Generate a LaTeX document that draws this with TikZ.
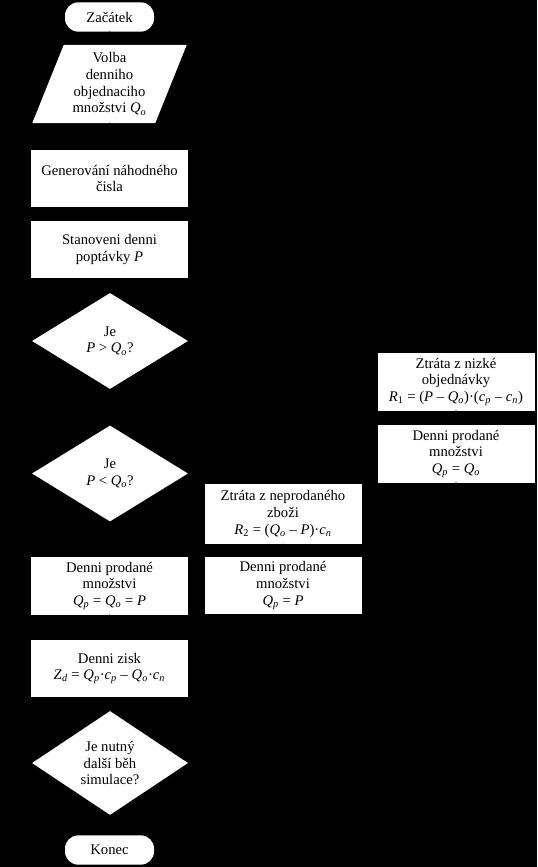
\documentclass[tikz,border=0pt]{standalone}
\usepackage{fontspec}
\setmainfont{Liberation Serif}
\usetikzlibrary{arrows.meta, shapes.geometric}
\newcommand{\vv}[2]{\textit{#1}\textsubscript{\textit{#2}}}
\newcommand{\vn}[2]{\textit{#1}\textsubscript{#2}}

\begin{document}
\begin{tikzpicture}[x=0.75pt, y=-0.75pt, >=Latex, line cap=round, line join=round,
	font=\fontsize{11}{12.5}\selectfont,
	box/.style={rectangle, fill=white, text=black, align=center, inner sep=1pt,
		minimum width=117.75pt, minimum height=43pt},
	term/.style={rectangle, rounded corners=10pt, fill=white, text=black,
		minimum width=66.75pt, minimum height=22pt},
	inbox/.style={trapezium, trapezium left angle=68, trapezium right angle=112,
		trapezium stretches=true, fill=white, text=black, align=center, inner sep=0pt,
		minimum width=116pt, minimum height=58.5pt},
	ask/.style={diamond, aspect=1.6, fill=white, text=black, align=center, inner sep=0pt,
		minimum width=117pt, minimum height=72pt},
	flow/.style={->, black, thick}]
% background
\fill[black] (0,0) rectangle (537,867);
%========================
% Left column
%========================
\node[term] (start) at (109.5,17) {Začátek};
\node[inbox] (volba) at (109.5,84) {Volba\\denniho\\objednaciho\\množstvi \vv{Q}{o}};
\node[box] (gen) at (109.5,178.5) {Generování náhodného\\čisla};
\node[box] (stan) at (109.5,249.5) {Stanoveni denni\\poptávky \textit{P}};
\node[ask] (d1) at (110,341) {Je\\\textit{P} > \vv{Q}{o}?};
\node[ask] (d2) at (110,473.5) {Je\\\textit{P} < \vv{Q}{o}?};
\node[box] (qpall) at (109.5,586) {Denni prodané\\množstvi\\\vv{Q}{p} = \vv{Q}{o} = \textit{P}};
\node[box] (zisk) at (109.5,668.5) {Denni zisk\\\vv{Z}{d} = \vv{Q}{p}·\vv{c}{p} – \vv{Q}{o}·\vv{c}{n}};
\node[ask, minimum height=78pt] (d3) at (110,763) {Je nutný\\další běh\\simulace?};
\node[term] (end) at (109.5,850) {Konec};
%========================
% Middle column: P < Qo
%========================
\node[box, minimum height=45pt] (loss2) at (283,514) {Ztráta z neprodaného\\zboži\\\vn{R}{2} = (\vv{Q}{o} – \textit{P})·\vv{c}{n}};
\node[box] (qpp) at (283,585.5) {Denni prodané\\množstvi\\\vv{Q}{p} = \textit{P}};
%========================
% Right column: P > Qo
%========================
\node[box] (loss1) at (456,382) {Ztráta z nizké\\objednávky\\\vn{R}{1} = (\textit{P} – \vv{Q}{o})·(\vv{c}{p} – \vv{c}{n})};
\node[box] (qpo) at (456,454) {Denni prodané\\množstvi\\\vv{Q}{p} = \vv{Q}{o}};
\coordinate (loop) at (15,763);
% connectors (drawn black, as in the original)
\draw[flow] (start) -- (volba);
\draw[flow] (volba) -- (gen);
\draw[flow] (gen) -- (stan);
\draw[flow] (stan) -- (d1);
\draw[flow] (d1) -- (d2);
\draw[flow] (d2) -- (qpall);
\draw[flow] (qpall) -- (zisk);
\draw[flow] (zisk) -- (d3);
\draw[flow] (d3) -- (end);
\draw[flow] (d1.east) -| (loss1);
\draw[flow] (loss1) -- (qpo);
\draw[flow] (d2.east) -| (loss2);
\draw[flow] (loss2) -- (qpp);
\draw[flow] (qpp.south) |- (zisk.east);
\draw[flow] (qpo.south) |- (zisk.east);
\draw[flow] (d3.west) -| (loop) |- (gen.west);
\end{tikzpicture}
\end{document}
